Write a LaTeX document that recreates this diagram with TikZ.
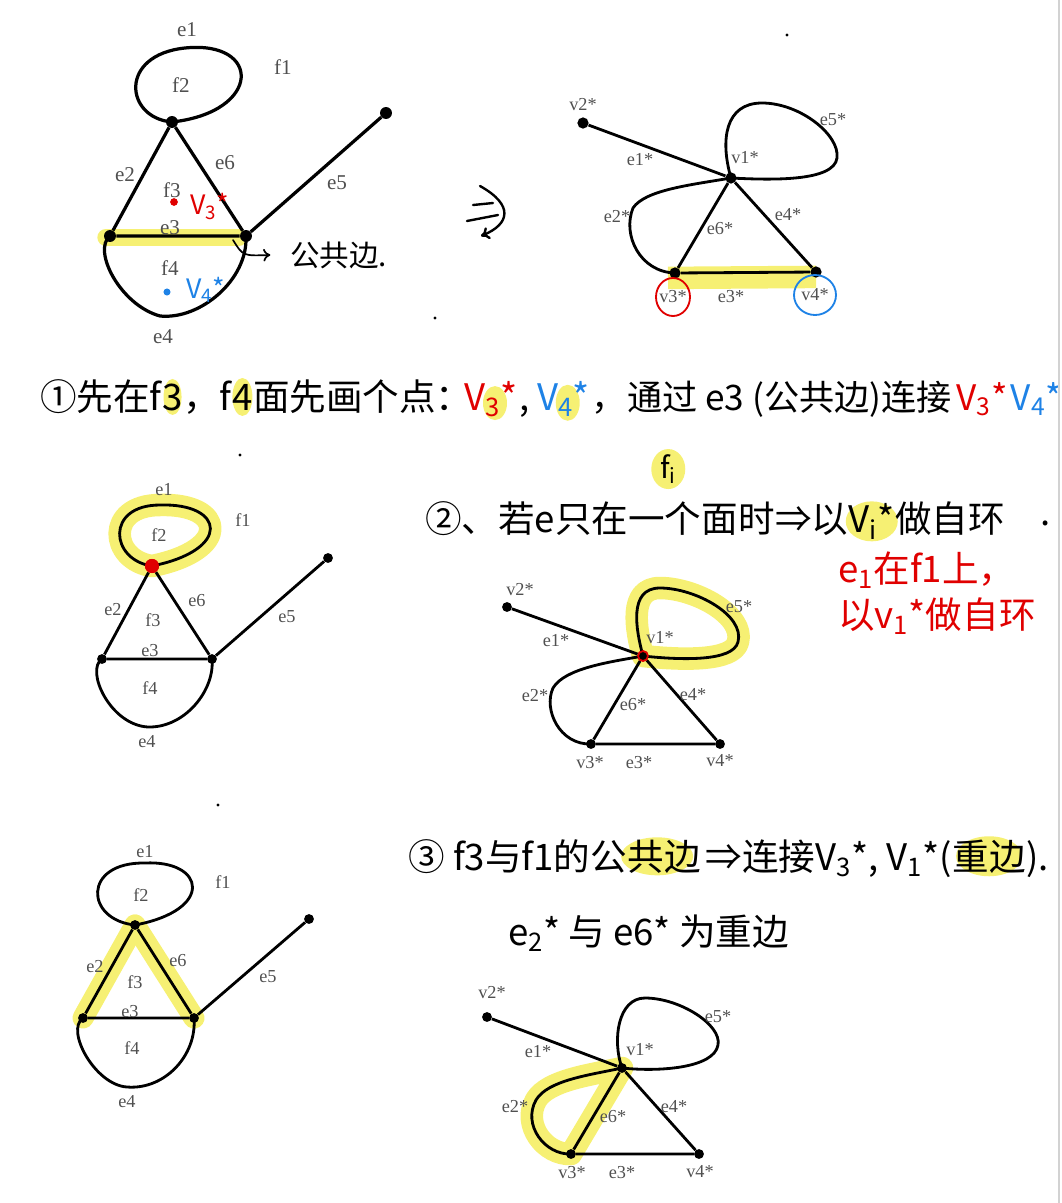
\documentclass[tikz,border=0pt]{standalone}
\usepackage{fontspec}
\setmainfont{Liberation Serif}
\newfontfamily\handfont{Noto Sans CJK SC}
\usepackage{tikz}
\usetikzlibrary{backgrounds,arrows.meta}
\definecolor{hlyellow}{RGB}{246,240,115}
\definecolor{penred}{RGB}{224,0,0}
\definecolor{penblue}{RGB}{30,130,230}
\definecolor{labelgray}{RGB}{80,80,80}

\begin{document}
\begin{tikzpicture}[x=0.025cm,y=-0.025cm,
    vtx/.style={circle,fill=black,inner sep=0pt,minimum size=7pt},
    edge/.style={line width=2pt},
    lbl/.style={text=labelgray,font=\fontsize{13}{15}\selectfont,inner sep=0pt},
    hand/.style={font=\handfont\fontsize{26}{30}\selectfont,inner sep=0pt,anchor=base west},
    handsmall/.style={hand,font=\handfont\fontsize{21}{24}\selectfont},
    hl/.style={draw=hlyellow,line cap=round,line join=round},
    hlspot/.style={fill=hlyellow},
    pen/.style={line width=1.2pt,line cap=round}]
\useasboundingbox (0,0) rectangle (1061,1203);

% step 1: plane graph
\node[vtx,minimum size=8.5pt] (t1) at (172,122) {};
\node[vtx,minimum size=8.5pt] (l1) at (110,236) {};
\node[vtx,minimum size=8.5pt] (r1) at (246,236) {};
\node[vtx,minimum size=8.5pt] (p1) at (386,113) {};
\begin{scope}[on background layer]
  \draw[hl,line width=12pt] ([xshift=-3pt,yshift=-1pt]l1.center) -- ([xshift=-5pt,yshift=-1pt]r1.center);
\end{scope}
\draw[edge,line width=2.3pt] (t1) -- (l1) -- (r1) -- (t1);
\draw[edge,line width=2.3pt] (r1) -- (p1);
\draw[edge,line width=2.3pt] (t1.center) .. controls (125,118) and (118,55) .. (185,48)
    .. controls (262,40) and (262,112) .. (t1.center);
\draw[edge,line width=2.3pt] (l1.center) .. controls (92,250) and (120,305) .. (160,316)
    .. controls (200,320) and (248,280) .. (r1.center);
\foreach \n/\x/\y/\t in {e1/187/30/e1, f1/283/67/f1, f2/181/85/f2, e2/125/175/e2,
    e6/225/163/e6, f3/172/190/f3, e3/170/228/e3, e5/337/183/e5, f4/170/268/f4, e4/163/337/e4}
  \node[lbl,font=\fontsize{15}{17}\selectfont] (g1\n) at (\x,\y) {\t};
\node[vtx,fill=penred,minimum size=5.5pt] (d3) at (174,202) {};
\node[handsmall,text=penred,font=\handfont\fontsize{19}{22}\selectfont] (d3t) at (190,214) {V\textsubscript{3}*};
\node[vtx,fill=penblue,minimum size=5pt] (d4) at (167,292) {};
\node[handsmall,text=penblue,font=\handfont\fontsize{19}{22}\selectfont] (d4t) at (186,298) {V\textsubscript{4}*};
\coordinate (c1) at (233,240);
\node[handsmall] (gb) at (290,266) {公共边.};
\draw[pen,-{To[length=5pt,width=9pt]}] (c1) .. controls (243,256) .. ([xshift=-14pt]gb.west);

% hand drawn arrow
\draw[pen,line width=1.7pt] (473,205) -- (493,203);
\draw[pen,line width=1.7pt] (467,221) -- (498,215);
\draw[pen,line width=1.7pt,-{To[length=6pt,width=9pt]}] (480,186) .. controls (514,205) and (510,224) .. (481,236);

% step 1: dual graph
\node[vtx,minimum size=8pt] (a1) at (731,178) {};
\node[vtx,minimum size=8pt] (a2) at (583,123) {};
\node[vtx,minimum size=8pt] (a3) at (675,273) {};
\node[vtx,minimum size=8pt] (a4) at (816,272) {};
\begin{scope}[on background layer]
  \draw[hl,line width=16pt,line cap=butt] ([xshift=-5pt,yshift=-3.5pt]a3.center) -- ([yshift=-3.5pt]a4.center);
\end{scope}
\draw[edge] (a2) -- (a1);
\draw[edge] (a1) -- (a3) -- (a4) -- (a1);
\draw[edge] (a1.center) .. controls (720,140) and (725,103) .. (762,103)
    .. controls (800,103) and (840,135) .. (837,158)
    .. controls (834,182) and (770,180) .. (a1.center);
\draw[edge] (a1.center) .. controls (690,185) and (645,190) .. (633,208)
    .. controls (622,235) and (640,272) .. (a3.center);
\foreach \n/\x/\y/\t in {v2/583/105/v2*, e1/640/160/e1*, v1/745/158/v1*, e5/833/120/e5*,
    e2/617/217/e2*, e6/720/229/e6*, e4/788/215/e4*, v3/673/297/v3*, e3/731/297/e3*, v4/815/295/v4*}
  \node[lbl] (h1\n) at (\x,\y) {\t};
\draw[penred,line width=1.3pt] (h1v3.center) ellipse (17 and 19);
\draw[penblue,line width=1.3pt] (h1v4.center) ellipse (21 and 20);

% step 1: text
\node[hand] (w1a) at (40,410) {①先在f};
\node[hand] (w1b) at (w1a.base east) {3};
\node[hand] (w1c) at (w1b.base east) {，f};
\node[hand] (w1d) at (w1c.base east) {4};
\node[hand] (w1e) at (w1d.base east) {面先画个点：};
\node[hand,text=penred] (w1f) at (464,410) {V\textsubscript{3}*};
\node[hand] (w1g) at ([xshift=1pt]w1f.base east) {,};
\node[hand,text=penblue] (w1h) at ([xshift=5pt]w1g.base east) {V\textsubscript{4}*};
\node[hand,font=\handfont\fontsize{25}{30}\selectfont] (w1i) at ([xshift=1pt]w1h.base east) {，通过 e3 (公共边)连接};
\node[hand,text=penred,font=\handfont\fontsize{25}{30}\selectfont] (w1j) at ([xshift=3pt]w1i.base east) {V\textsubscript{3}*};
\node[hand,text=penblue,font=\handfont\fontsize{25}{30}\selectfont] (w1k) at ([xshift=2pt]w1j.base east) {V\textsubscript{4}*};
\begin{scope}[on background layer]
  \fill[hlspot] (w1b.center) ellipse (9 and 18);
  \fill[hlspot] (w1d.center) ellipse (10 and 19);
  \fill[hlspot] ([xshift=3pt,yshift=-3pt]w1f.center) ellipse (12 and 17);
  \fill[hlspot] ([xshift=3pt,yshift=-3pt]w1h.center) ellipse (12 and 18);
\end{scope}

% step 2: text
\node[hand] (w2a) at (425,532) {②、若e只在一个面时};
\node[hand] (w2b) at (w2a.base east) {⇒以};
\node[hand] (w2c) at (w2b.base east) {V\textsubscript{i}*};
\node[hand] (w2d) at (w2c.base east) {做自环};
\node[hand] (w2e) at (1040,525) {.};
\node[handsmall] (w2f) at (660,478) {f\textsubscript{i}};
\node[hand,text=penred] (w2g) at (838,582) {e\textsubscript{1}在f1上，};
\node[hand,text=penred] (w2h) at (838,628) {以v\textsubscript{1}*做自环};
\begin{scope}[on background layer]
  \fill[hlspot] (w2c.center) ellipse (26 and 20);
  \fill[hlspot] (w2f.center) ellipse (17 and 20);
\end{scope}

% step 2: plane graph
\node[vtx,fill=penred,minimum size=10pt] (t2) at (152,566) {};
\node[vtx] (l2) at (102,659) {};
\node[vtx] (r2) at (212,659) {};
\node[vtx] (p2) at (328,558) {};
\begin{scope}[on background layer]
  \draw[hl,line width=16pt] (t2.center) .. controls (110,560) and (105,505) .. (160,505)
      .. controls (225,503) and (232,550) .. (t2.center);
\end{scope}
\draw[edge] (t2) -- (l2) -- (r2) -- (t2);
\draw[edge] (r2) -- (p2);
\draw[edge] (t2.center) .. controls (110,560) and (105,505) .. (160,505)
    .. controls (225,503) and (232,550) .. (t2.center);
\draw[edge] (l2.center) .. controls (85,670) and (110,725) .. (148,727)
    .. controls (185,728) and (215,690) .. (r2.center);
\node[vtx,fill=penred,minimum size=10pt] at (t2) {};
\foreach \n/\x/\y/\t in {e1/164/490/e1, f1/243/520/f1, f2/159/535/f2, e2/113/610/e2,
    e6/197/601/e6, f3/153/620/f3, e3/150/651/e3, e5/287/617/e5, f4/150/688/f4, e4/147/742/e4}
  \node[lbl] (g2\n) at (\x,\y) {\t};

% step 2: dual graph
\node[vtx,draw=penred,line width=1.2pt,minimum size=7pt] (b1) at (643,656) {};
\node[vtx] (b2) at (507,607) {};
\node[vtx] (b3) at (591,744) {};
\node[vtx] (b4) at (720,744) {};
\begin{scope}[on background layer]
  \draw[hl,line width=16pt] (b1.center) .. controls (636,630) and (628,588) .. (660,588)
      .. controls (695,588) and (745,615) .. (738,642)
      .. controls (733,662) and (680,660) .. (b1.center);
\end{scope}
\draw[edge] (b2) -- (b1);
\draw[edge] (b1) -- (b3) -- (b4) -- (b1);
\draw[edge] (b1.center) .. controls (636,630) and (628,588) .. (660,588)
    .. controls (695,588) and (745,615) .. (738,642)
    .. controls (733,662) and (680,660) .. (b1.center);
\draw[edge] (b1.center) .. controls (610,662) and (565,668) .. (553,688)
    .. controls (543,710) and (560,745) .. (b3.center);
\node[vtx,draw=penred,line width=1.2pt,minimum size=7pt] at (b1) {};
\foreach \n/\x/\y/\t in {v2/520/590/v2*, e1/556/641/e1*, v1/660/638/v1*, e5/739/607/e5*,
    e2/535/696/e2*, e6/633/705/e6*, e4/693/695/e4*, v3/590/763/v3*, e3/639/763/e3*, v4/720/761/v4*}
  \node[lbl] (h2\n) at (\x,\y) {\t};

% step 3: text
\node[hand] (w3a) at (408,870) {③ f3与f1的公};
\node[hand] (w3b) at (w3a.base east) {共边};
\node[hand] (w3c) at ([xshift=3pt]w3b.base east) {⇒连接V\textsubscript{3}*, V\textsubscript{1}*(};
\node[hand] (w3d) at (w3c.base east) {重边};
\node[hand] (w3e) at (w3d.base east) {).};
\node[hand] (w4a) at (508,945) {e\textsubscript{2}* 与 e6* 为重边};
\begin{scope}[on background layer]
  \fill[hlspot] ([xshift=-5pt]w3b.center) ellipse (36 and 19);
  \fill[hlspot] (w3d.center) ellipse (33 and 20);
\end{scope}

% step 3: plane graph
\node[vtx] (t3) at (135,925) {};
\node[vtx] (l3) at (83,1018) {};
\node[vtx] (r3) at (194,1018) {};
\node[vtx] (p3) at (309,919) {};
\begin{scope}[on background layer]
  \draw[hl,line width=15pt] (t3.center) -- (l3.center);
  \draw[hl,line width=15pt] (t3.center) -- (r3.center);
\end{scope}
\draw[edge] (t3) -- (l3) -- (r3) -- (t3);
\draw[edge] (r3) -- (p3);
\draw[edge] (t3.center) .. controls (85,920) and (82,862) .. (145,863)
    .. controls (205,860) and (215,910) .. (t3.center);
\draw[edge] (l3.center) .. controls (65,1030) and (95,1085) .. (127,1087)
    .. controls (165,1090) and (197,1055) .. (r3.center);
\foreach \n/\x/\y/\t in {e1/145/852/e1, f1/223/882/f1, f2/141/895/f2, e2/95/967/e2,
    e6/178/961/e6, f3/135/982/f3, e3/130/1012/e3, e5/268/977/e5, f4/132/1048/f4, e4/127/1102/e4}
  \node[lbl] (g3\n) at (\x,\y) {\t};

% step 3: dual graph
\node[vtx] (c1v) at (622,1068) {};
\node[vtx] (c2v) at (487,1017) {};
\node[vtx] (c3v) at (571,1154) {};
\node[vtx] (c4v) at (699,1154) {};
\begin{scope}[on background layer]
  \draw[hl,line width=16pt] (c1v.center) .. controls (590,1075) and (548,1080) .. (536,1100)
      .. controls (522,1125) and (545,1155) .. (c3v.center) -- cycle;
\end{scope}
\draw[edge] (c2v) -- (c1v);
\draw[edge] (c1v) -- (c3v) -- (c4v) -- (c1v);
\draw[edge] (c1v.center) .. controls (612,1040) and (618,998) .. (645,998)
    .. controls (680,998) and (722,1025) .. (718,1045)
    .. controls (714,1068) and (660,1072) .. (c1v.center);
\draw[edge] (c1v.center) .. controls (590,1075) and (548,1080) .. (536,1100)
    .. controls (522,1125) and (545,1155) .. (c3v.center);
\foreach \n/\x/\y/\t in {v2/492/993/v2*, e1/538/1052/e1*, v1/640/1050/v1*, e5/718/1017/e5*,
    e2/515/1107/e2*, e6/613/1117/e6*, e4/674/1107/e4*, v3/572/1173/v3*, e3/622/1173/e3*, v4/700/1172/v4*}
  \node[lbl] (h3\n) at (\x,\y) {\t};

% stray pen marks
\foreach \x/\y in {787/35, 435/318, 240/455, 218/805}
  \fill (\x,\y) circle (1.2pt);
\draw[gray!35,line width=1.5pt] (1059,0) -- (1059,1203);
\end{tikzpicture}
\end{document}
